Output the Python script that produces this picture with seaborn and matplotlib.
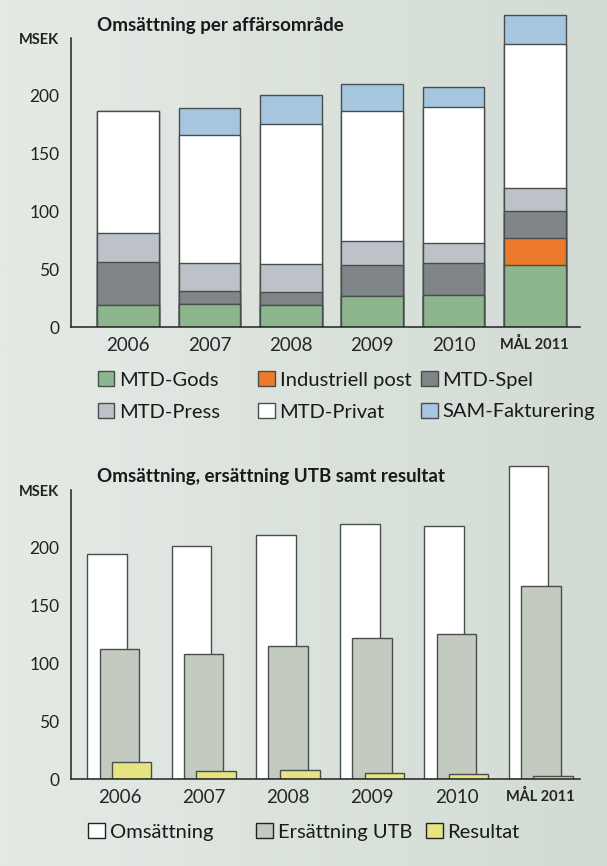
import numpy as np
import pandas as pd
import matplotlib
matplotlib.use("Agg")
import matplotlib.pyplot as plt
import seaborn as sns
from matplotlib.patches import Patch

years = ["2006", "2007", "2008", "2009", "2010", "MÅL 2011"]

# Omsättning per affärsområde (MSEK)
mtd_gods = [19, 20, 19, 27, 28, 54]
industriell_post = [0, 0, 0, 0, 0, 23]
mtd_spel = [37, 11, 11, 27, 27, 23.5]
mtd_press = [25, 24, 24.5, 20.5, 18, 19.5]
mtd_privat = [106, 111, 121.5, 112.5, 117.5, 125]
sam_fakt = [0, 24, 25, 23, 17.5, 25]

# Omsättning, ersättning UTB samt resultat (MSEK)
omsattning = [195, 201.5, 211, 221, 219, 271]
ersattning_utb = [112.5, 108, 115, 122, 125.5, 167]
resultat = [15, 6.5, 8, 5.5, 4.3, 3]

yticks = [0, 50, 100, 150, 200, 250]
ytick_labels = ["0", "50", "100", "150", "200", "MSEK"]

EDGE = "#4a4d4d"
FONT = ["Lato", "DejaVu Sans"]

sns.set_style("white")
plt.rcParams["font.family"] = FONT
plt.rcParams["text.color"] = "#1a1a1a"

W, H = 607, 866
fig = plt.figure(figsize=(W / 100, H / 100), dpi=100)

# background gradient
bg = fig.add_axes([0, 0, 1, 1], zorder=-10)
grad = np.linspace(0, 1, 256)[None, :]
cmap = matplotlib.colors.LinearSegmentedColormap.from_list("bg", ["#e5eae5", "#d1dbd4"])
bg.imshow(grad, aspect="auto", cmap=cmap, extent=[0, 1, 0, 1])
bg.set_axis_off()


def px(x, y):
    return x / W, 1 - y / H


def style_axis(ax):
    ax.set_facecolor("none")
    ax.set_ylim(0, 280)
    ax.set_yticks(yticks)
    ax.set_yticklabels(ytick_labels, fontsize=12.5)
    ax.get_yticklabels()[-1].set_fontsize(10.5)
    ax.get_yticklabels()[-1].set_fontweight("bold")
    for s in ["top", "right"]:
        ax.spines[s].set_visible(False)
    ax.spines["left"].set_bounds(0, 250)
    ax.spines["left"].set_linewidth(1.1)
    ax.spines["bottom"].set_linewidth(1.1)
    ax.spines["left"].set_color("#222222")
    ax.spines["bottom"].set_color("#222222")
    ax.tick_params(axis="y", direction="out", length=5, width=1, pad=3, colors="#222222")
    ax.tick_params(axis="x", which="major", length=0, pad=7, labelsize=13.5)
    ax.tick_params(axis="x", which="minor", direction="in", length=6, width=1, color="#222222")
    ax.set_xlabel("")
    ax.set_ylabel("")
    labs = ax.get_xticklabels()
    labs[-1].set_fontsize(10.5)
    labs[-1].set_fontweight("bold")


AX_LEFT, AX_W = 70.5 / W, 509 / W

# --- top chart: stacked bars ---
segments = [
    ("MTD-Gods", mtd_gods, "#8db58e"),
    ("Industriell post", industriell_post, "#ec7a2a"),
    ("MTD-Spel", mtd_spel, "#808588"),
    ("MTD-Press", mtd_press, "#bcc2c8"),
    ("MTD-Privat", mtd_privat, "#ffffff"),
    ("SAM-Fakturering", sam_fakt, "#a6c5de"),
]
df = pd.DataFrame({name: vals for name, vals, _ in segments}, index=years)
cum = df.cumsum(axis=1)

ax1 = fig.add_axes([AX_LEFT, 1 - 327 / H, AX_W, 323.4 / H])
for name, _, col in reversed(segments):
    sns.barplot(x=years, y=cum[name].values, color=col, saturation=1,
                width=0.76, edgecolor=EDGE, linewidth=1, ax=ax1)
ax1.set_xlim(-0.71, 5.55)
ax1.set_xticks(range(len(years)))
ax1.set_xticklabels(years)
ax1.set_xticks([5.55], minor=True)
style_axis(ax1)

fig.text(*px(97, 26), "Omsättning per affärsområde", fontsize=13.5,
         fontweight="bold", va="center", ha="left")

leg_kw = dict(frameon=False, fontsize=14.5, handlelength=0.82, handleheight=0.8,
              handletextpad=0.25, labelspacing=0.7, borderpad=0, borderaxespad=0)
leg_cols = [(97.5, [0, 3]), (258, [1, 4]), (421, [2, 5])]
for x0, idx in leg_cols:
    handles = [Patch(facecolor=segments[i][2], edgecolor=EDGE, linewidth=1,
                     label=segments[i][0]) for i in idx]
    fig.legend(handles=handles, loc="upper left", bbox_to_anchor=px(x0, 371), **leg_kw)

# --- bottom chart: overlapping bars ---
ax2 = fig.add_axes([AX_LEFT, 1 - 779 / H, AX_W, 323.4 / H])
pos = np.arange(len(years))
bottom_series = [
    ("Omsättning", omsattning, "#ffffff", -0.145),
    ("Ersättning UTB", ersattning_utb, "#c3cabf", 0.0),
    ("Resultat", resultat, "#e6e480", 0.145),
]
for name, vals, col, off in bottom_series:
    sns.barplot(x=pos + off, y=vals, native_scale=True, color=col, saturation=1,
                width=0.47, edgecolor=EDGE, linewidth=1, ax=ax2)
ax2.set_xlim(-0.58, 5.46)
ax2.set_xticks(pos)
ax2.set_xticklabels(years)
ax2.set_xticks(pos + 0.45, minor=True)
style_axis(ax2)

fig.text(*px(97, 477), "Omsättning, ersättning UTB samt resultat", fontsize=13.5,
         fontweight="bold", va="center", ha="left")

for x0, (name, _, col, _) in zip([88, 256, 426], bottom_series):
    h = [Patch(facecolor=col, edgecolor="#222222", linewidth=1, label=name)]
    fig.legend(handles=h, loc="upper left", bbox_to_anchor=px(x0, 823), **leg_kw)

fig.savefig("out.png", dpi=100)
